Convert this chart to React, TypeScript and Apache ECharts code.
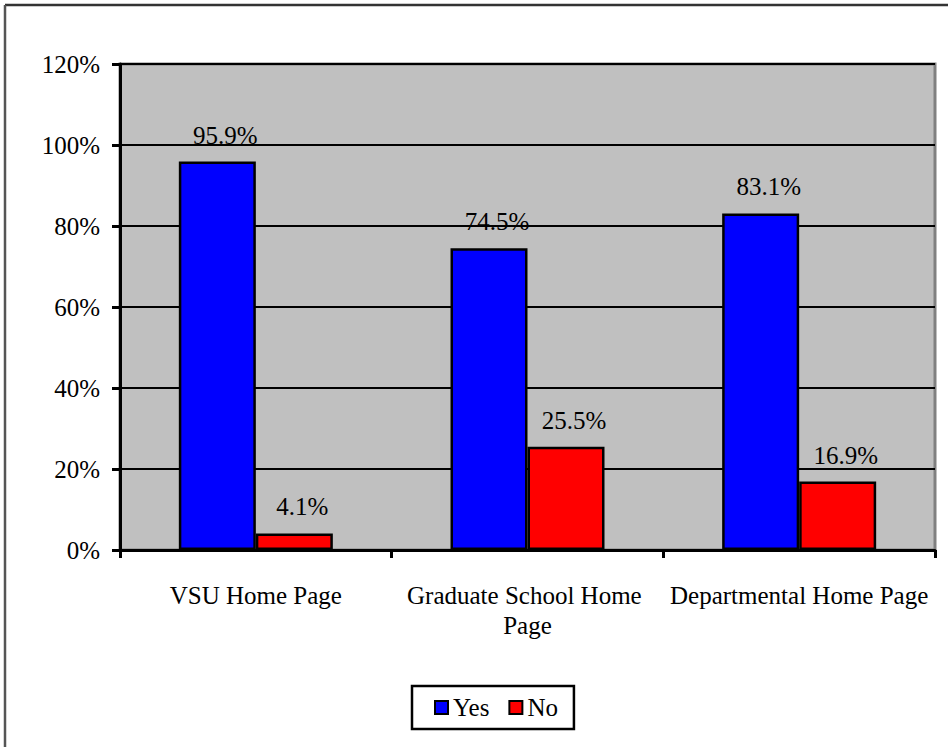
import React, { useEffect, useRef } from "react";
import * as echarts from "echarts";

const categories = ["VSU Home Page", "Graduate School Home Page", "Departmental Home Page"];
const yesValues = [95.9, 74.5, 83.1];
const noValues = [4.1, 25.5, 16.9];
const seriesNames = ["Yes", "No"];

const FONT = "'Liberation Serif', 'Times New Roman', serif";

export default function App() {
  const ref = useRef<HTMLDivElement>(null);
  useEffect(() => {
    document.body.style.margin = "0";
    const chart = echarts.init(ref.current!, null, { renderer: "svg" });
    const labelCfg = {
      show: true,
      position: "top",
      distance: 14,
      offset: [8, 0],
      formatter: "{c}%",
      fontFamily: FONT,
      fontSize: 25,
      color: "#000",
    };
    chart.setOption({
      animation: false,
      backgroundColor: "#ffffff",
      textStyle: { fontFamily: FONT },
      graphic: [
        { type: "line", shape: { x1: 5, y1: 5, x2: 948, y2: 5 }, style: { stroke: "#333333", lineWidth: 2.5 } },
        { type: "line", shape: { x1: 5, y1: 5, x2: 5, y2: 747 }, style: { stroke: "#555555", lineWidth: 2.5 } },
      ],
      grid: {
        left: 120,
        right: 13,
        top: 64,
        bottom: 197,
        show: true,
        backgroundColor: "#c0c0c0",
        borderColor: "#808080",
        borderWidth: 3,
      },
      legend: {
        data: seriesNames,
        left: 412,
        top: 686,
        orient: "horizontal",
        borderColor: "#000",
        borderWidth: 2.5,
        padding: [9, 16, 9, 22],
        itemWidth: 13,
        itemHeight: 13,
        itemGap: 19,
        icon: "rect",
        textStyle: { fontFamily: FONT, fontSize: 25, color: "#000" },
        itemStyle: { borderColor: "#000", borderWidth: 2 },
      },
      xAxis: {
        type: "category",
        data: categories,
        axisLine: { lineStyle: { color: "#000", width: 3 } },
        axisTick: { show: true, length: 8, lineStyle: { color: "#000", width: 3 } },
        axisLabel: {
          interval: 0,
          fontFamily: FONT,
          fontSize: 25,
          color: "#000",
          margin: 30,
          lineHeight: 30,
          width: 262,
          overflow: "break",
        },
      },
      yAxis: {
        type: "value",
        min: 0,
        max: 120,
        interval: 20,
        axisLine: { show: true, lineStyle: { color: "#000", width: 3 } },
        axisTick: { show: true, length: 8, lineStyle: { color: "#000", width: 3 } },
        axisLabel: { formatter: "{value}%", fontFamily: FONT, fontSize: 25, color: "#000", margin: 20 },
        splitLine: { show: true, lineStyle: { color: "#000", width: 2 } },
      },
      series: [
        {
          name: seriesNames[0],
          type: "bar",
          data: yesValues,
          barWidth: 77,
          barGap: "0%",
          itemStyle: { color: "#0000ff", borderColor: "#000", borderWidth: 2.5 },
          label: labelCfg,
        },
        {
          name: seriesNames[1],
          type: "bar",
          data: noValues,
          barWidth: 77,
          barGap: "0%",
          itemStyle: { color: "#ff0000", borderColor: "#000", borderWidth: 2.5 },
          label: labelCfg,
        },
      ],
    });
    return () => chart.dispose();
  }, []);
  return <div ref={ref} style={{ width: 948, height: 747 }} />;
}
